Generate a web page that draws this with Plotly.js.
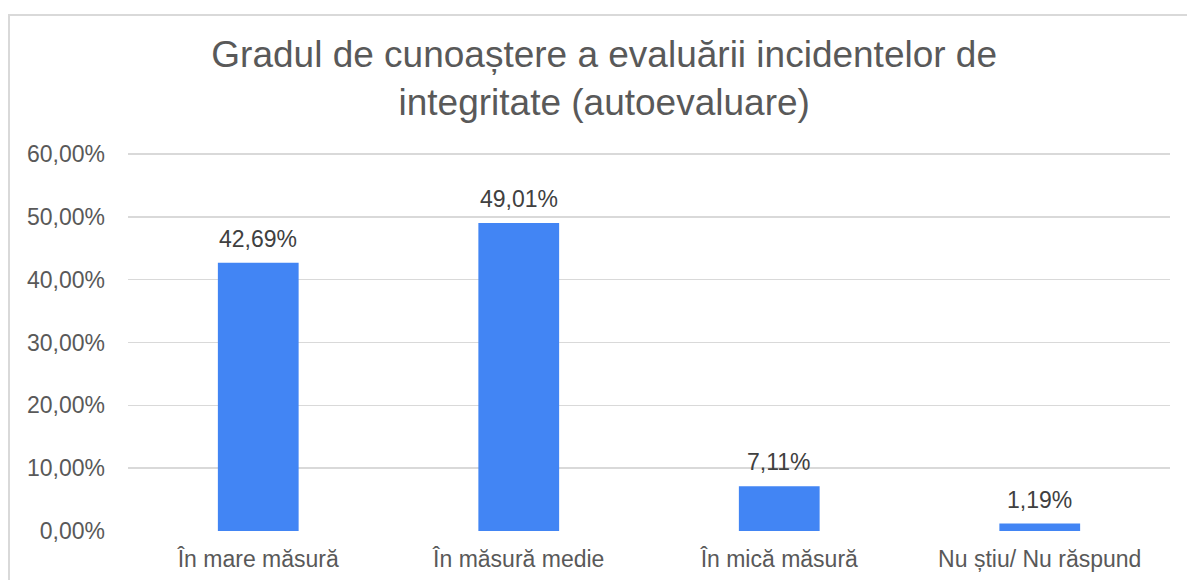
<!DOCTYPE html>
<html>
<head>
<meta charset="utf-8">
<script src="https://cdn.plot.ly/plotly-3.0.1.min.js"></script>
<style>
html,body{margin:0;padding:0;background:#fff;overflow:hidden;}
#frame{position:absolute;left:8px;top:14px;width:1300px;height:700px;border:2px solid #d9d9d9;box-sizing:border-box;}
#chart{position:absolute;left:0;top:0;width:1187px;height:580px;}
</style>
</head>
<body>
<div id="frame"></div>
<div id="chart"></div>
<script>
const categories = ["În mare măsură", "În măsură medie", "În mică măsură", "Nu știu/ Nu răspund"];
const values = [42.69, 49.01, 7.11, 1.19];
const yTickValues = [0, 10, 20, 30, 40, 50, 60];
const titleText = "Gradul de cunoaștere a evaluării incidentelor de<br>integritate (autoevaluare)";

const FONT = 'Liberation Sans, Arial, sans-serif';
const fmt = v => v.toFixed(2).replace('.', ',') + '%';

const trace = {
  type: 'bar',
  x: categories,
  y: values,
  marker: {color: '#4285F4'},
  width: 0.31,
  hoverinfo: 'none'
};

const labels = categories.map((c, i) => ({
  x: c, y: values[i], xref: 'x', yref: 'y',
  text: fmt(values[i]), showarrow: false,
  yanchor: 'bottom', yshift: 9,
  font: {family: FONT, size: 23, color: '#404040'}
}));

const layout = {
  width: 1187, height: 580,
  paper_bgcolor: 'rgba(0,0,0,0)',
  plot_bgcolor: 'rgba(0,0,0,0)',
  margin: {l: 128, r: 17, t: 148, b: 49},
  separators: ',.',
  font: {family: FONT, color: '#595959'},
  title: {
    text: titleText,
    font: {size: 37, color: '#595959', family: FONT},
    x: 0.509, xref: 'container', xanchor: 'center',
    y: 0.885, yref: 'container', yanchor: 'top'
  },
  xaxis: {
    showgrid: false, zeroline: false, showline: false,
    ticks: '', ticklabelstandoff: 12,
    tickfont: {size: 23, color: '#595959'}
  },
  yaxis: {
    range: [0, 60.955],
    tickmode: 'array', tickvals: yTickValues, ticktext: yTickValues.map(fmt),
    gridcolor: '#d9d9d9', gridwidth: 1.5,
    zeroline: false, showline: false,
    ticks: '', ticklabelstandoff: 22,
    tickfont: {size: 23, color: '#595959'}
  },
  annotations: labels,
  showlegend: false
};

Plotly.newPlot('chart', [trace], layout, {displayModeBar: false, staticPlot: true});
</script>
</body>
</html>
